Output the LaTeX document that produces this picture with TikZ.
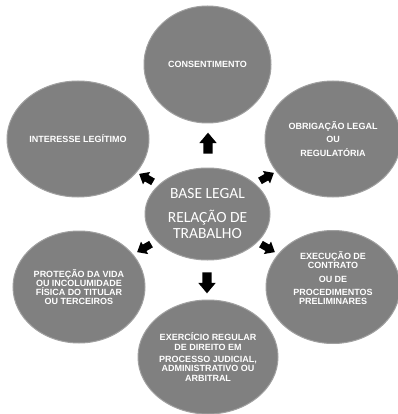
\documentclass[tikz,border=0pt]{standalone}
\usepackage{fontspec}
\setmainfont{Liberation Sans}
\newfontfamily\calibri{Carlito}
\usetikzlibrary{shapes.geometric,shapes.arrows}
\definecolor{petalgray}{RGB}{128,128,128}
\definecolor{petaledge}{RGB}{160,160,160}
\tikzset{
  petal/.style={ellipse, fill=petalgray, draw=petaledge, line width=1pt, inner sep=0pt,
    text=white, align=center, font=\bfseries\fontsize{9}{9.2}\selectfont},
  hub/.style={petal, font=\calibri\fontsize{15.5}{16}\selectfont},
  bigarrow/.style={single arrow, fill=black, draw=none, inner sep=4.5pt,
    single arrow head extend=4pt, single arrow tip angle=80, minimum height=21pt},
  smallarrow/.style={bigarrow, inner sep=3.5pt, single arrow head extend=3.5pt, minimum height=16pt}
}
\begin{document}
\begin{tikzpicture}[x=1pt,y=-1pt]
    \useasboundingbox (0,0) rectangle (397,414);
    % outer ellipses
    \node[petal, minimum width=127pt, minimum height=117pt] (cons) at (207.5,64.5) {CONSENTIMENTO};
    \node[petal, minimum width=142pt, minimum height=116pt] (inter) at (78,139) {INTERESSE LEG\'ITIMO};
    \node[petal, minimum width=136pt, minimum height=116pt] (obrig) at (333,139)
        {OBRIGA\c{C}\~AO LEGAL\\[4pt]OU\\[4pt]REGULAT\'ORIA};
    \node[petal, minimum width=132pt, minimum height=112pt] (prot) at (79,287)
        {PROTE\c{C}\~AO DA VIDA\\OU INCOLUMIDADE\\F\'ISICA DO TITULAR\\OU TERCEIROS};
    \node[petal, minimum width=134pt, minimum height=113pt, text depth=18pt] (exec) at (333,287)
        {EXECU\c{C}\~AO DE\\CONTRATO\\[5pt]OU DE\\[4pt]PROCEDIMENTOS\\PRELIMINARES};
    \node[petal, minimum width=140pt, minimum height=114pt] (exer) at (208,357)
        {EXERC\'ICIO REGULAR\\DE DIREITO EM\\[3.5pt]PROCESSO JUDICIAL,\\ADMINISTRATIVO OU\\ARBITRAL};
    % centre
    \node[hub, minimum width=125pt, minimum height=92pt] (base) at (207.5,214)
        {BASE LEGAL\\[8pt]RELA\c{C}\~AO DE\\TRABALHO};
    % arrows
    \node[bigarrow, rotate=90] (toCons) at (208,146) {};
    \node[bigarrow, rotate=-90] (toExer) at (207,280) {};
    \node[smallarrow, rotate=150] (toInter) at (148,179) {};
    \node[smallarrow, rotate=30] (toObrig) at (265,178) {};
    \node[smallarrow, rotate=210] (toProt) at (146,247) {};
    \node[smallarrow, rotate=-30] (toExec) at (266,247) {};
\end{tikzpicture}
\end{document}
